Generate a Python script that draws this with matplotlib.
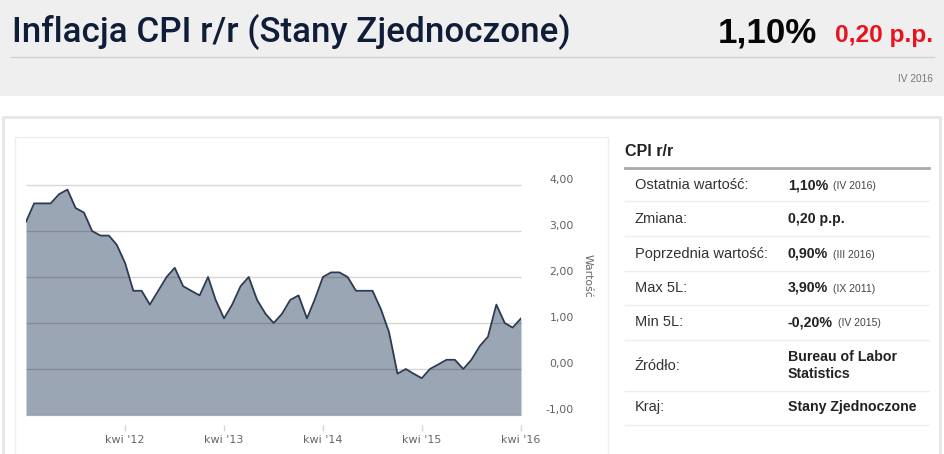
import matplotlib
matplotlib.use("Agg")
import matplotlib.pyplot as plt
import matplotlib.dates as mdates
from matplotlib.patches import Rectangle
from matplotlib.lines import Line2D
from matplotlib.transforms import ScaledTranslation
import pandas as pd

# ---------------- data ----------------
start_month = "2011-04-01"
cpi_values = [3.2, 3.6, 3.6, 3.6, 3.8, 3.9, 3.5, 3.4, 3.0,
              2.9, 2.9, 2.7, 2.3, 1.7, 1.7, 1.4, 1.7, 2.0, 2.2, 1.8, 1.7,
              1.6, 2.0, 1.5, 1.1, 1.4, 1.8, 2.0, 1.5, 1.2, 1.0, 1.2, 1.5,
              1.6, 1.1, 1.5, 2.0, 2.1, 2.1, 2.0, 1.7, 1.7, 1.7, 1.3, 0.8,
              -0.1, 0.0, -0.1, -0.2, 0.0, 0.1, 0.2, 0.2, 0.0, 0.2, 0.5, 0.7,
              1.4, 1.0, 0.9, 1.1]
xtick_dates = ["2012-04-01", "2013-04-01", "2014-04-01", "2015-04-01", "2016-04-01"]
xtick_labels = ["kwi '12", "kwi '13", "kwi '14", "kwi '15", "kwi '16"]
ytick_values = [-1, 0, 1, 2, 3, 4]
y_axis_title = "Wartość"

title = "Inflacja CPI r/r (Stany Zjednoczone)"
head_value = "1,10%"
head_change = "0,20 p.p."
head_period = "IV 2016"

table_title = "CPI r/r"
row_labels = ["Ostatnia wartość:", "Zmiana:", "Poprzednia wartość:", "Max 5L:",
              "Min 5L:", "Źródło:", "Kraj:"]
row_values = ["1,10%", "0,20 p.p.", "0,90%", "3,90%", "-0,20%",
              "Bureau of Labor\nStatistics", "Stany Zjednoczone"]
row_notes = ["(IV 2016)", "", "(III 2016)", "(IX 2011)", "(IV 2015)", "", ""]

# ---------------- figure ----------------
W, H = 945, 454
fig = plt.figure(figsize=(W / 100, H / 100), dpi=100)
fig.patch.set_facecolor("white")


def fx(x):
    return x / W


def fy(y):
    return 1 - y / H


def rect(x0, y0, x1, y1, **kw):
    r = Rectangle((fx(x0), fy(y1)), fx(x1) - fx(x0), fy(y0) - fy(y1),
                  transform=fig.transFigure, **kw)
    fig.add_artist(r)
    return r


def hline(x0, x1, y, **kw):
    fig.add_artist(Line2D([fx(x0), fx(x1)], [fy(y), fy(y)],
                          transform=fig.transFigure, **kw))


def text(x, y, s, **kw):
    return fig.text(fx(x), fy(y), s, **kw)


# header
rect(0, 0, 945, 96, facecolor="#efefef", edgecolor="none", zorder=0)
hline(11, 934, 57, color="#d2d2d2", lw=1)

# panels
rect(3, 117, 940, 470, facecolor="white", edgecolor="#e6e6e6", lw=2, zorder=0)
rect(15, 137.5, 608.5, 470, facecolor="white", edgecolor="#eeeeee", lw=1, zorder=0)

renderer = fig.canvas.get_renderer()


def fit(t, target_w):
    bb = t.get_window_extent(renderer=renderer)
    t.set_fontsize(t.get_fontsize() * target_w / bb.width)
    return t


t_title = text(12, 42, title, fontsize=23, family=["Roboto", "DejaVu Sans"],
               weight="medium", color="#0f1d38", va="baseline", ha="left")
fit(t_title, 560)

t_val = text(718, 43, head_value, fontsize=26, family="Liberation Sans",
             weight="bold", color="#050505", va="baseline", ha="left")
fit(t_val, 99)
t_chg = text(835, 42, head_change, fontsize=17.6, family="Liberation Sans",
             weight="bold", color="#e8131c", va="baseline", ha="left")
fit(t_chg, 98)
text(933, 79, head_period, fontsize=7.3, family="Liberation Sans",
     color="#777777", va="center", ha="right")

# ---------------- chart ----------------
dates = pd.date_range(start_month, periods=len(cpi_values), freq="MS")
ax = fig.add_axes([fx(26), fy(415), fx(521) - fx(26), fy(185) - fy(415)])
ax.set_facecolor("none")
ax.fill_between(dates, cpi_values, min(ytick_values), color="#9ba6b4",
                lw=0, zorder=1)
ax.plot(dates, cpi_values, color="#2c3a52", lw=1.3, zorder=3,
        solid_joinstyle="round")
ax.set_xlim(dates[0], dates[-1])
ax.set_ylim(min(ytick_values), max(ytick_values))
ax.hlines(ytick_values, 0, 1, transform=ax.get_yaxis_transform(),
          colors=[(0, 0, 0, 0.16)], lw=1, zorder=2, clip_on=False)

for s in ["top", "left", "right"]:
    ax.spines[s].set_visible(False)
ax.spines["bottom"].set_position(("outward", 7.2))
ax.spines["bottom"].set_visible(False)
ax.set_xticks(pd.to_datetime(xtick_dates))
ax.set_xticklabels(xtick_labels)
ax.tick_params(axis="x", length=4.5, width=1, color="#ccd6eb", pad=3,
               labelsize=8, labelcolor="#666666")
for lbl in ax.get_xticklabels():
    lbl.set_family("DejaVu Sans")
ax.set_yticks([])

off = ScaledTranslation(0, 5 / 100, fig.dpi_scale_trans)
for v in ytick_values:
    ax.text((574 - 26) / 495, v, f"{v:.2f}".replace(".", ","),
            transform=ax.get_yaxis_transform() + off, ha="right", va="center",
            fontsize=7.8, color="#606060", family="DejaVu Sans", clip_on=False)

text(588, 276, y_axis_title, rotation=270, ha="center", va="center",
     fontsize=7.8, color="#666666", family="DejaVu Sans")

# ---------------- table ----------------
text(625, 156.5, table_title, fontsize=11.5, family="Liberation Sans",
     weight="bold", color="#222222", va="baseline", ha="left")
hline(625, 929, 167.5, color="#a8a8a8", lw=2)

row_centers = [185, 219.3, 254, 288, 322.5, 366.5, 407.5]
row_seps = [201.5, 235.5, 270.5, 305, 339.5, 390.5, 424.5]
for lab, val, note, yc, ys in zip(row_labels, row_values, row_notes,
                                  row_centers, row_seps):
    text(635, yc, lab, fontsize=10.5, family="Liberation Sans",
         color="#333333", va="center", ha="left")
    lines = val.split("\n")
    if len(lines) == 1:
        tv = text(788, yc, val, fontsize=10.2, family="Liberation Sans",
                  weight="bold", color="#222222", va="center", ha="left")
        if note:
            bb = tv.get_window_extent(renderer=renderer)
            xr = bb.x1 + 5
            text(xr, yc + 1, note, fontsize=7.5, family="Liberation Sans",
                 color="#444444", va="center", ha="left")
    else:
        for i, ln in enumerate(lines):
            text(788, yc - 9.5 + 17.5 * i, ln, fontsize=10.2,
                 family="Liberation Sans", weight="bold", color="#222222",
                 va="center", ha="left")
    hline(625, 929, ys, color="#eeeeee", lw=1)

fig.savefig("out.png", dpi=100, facecolor="white")
